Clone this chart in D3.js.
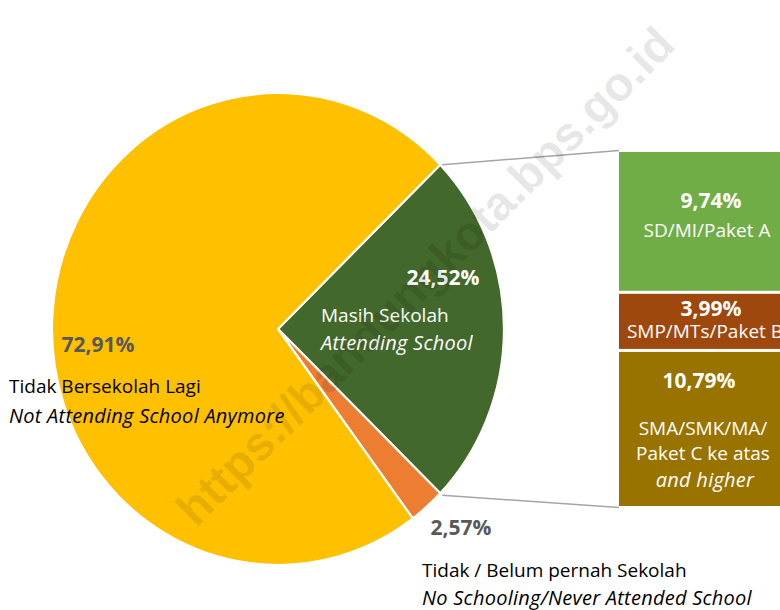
<!DOCTYPE html>
<html>
<head>
<meta charset="utf-8">
<script src="https://cdn.jsdelivr.net/npm/d3@7"></script>
<style>
  html, body { margin: 0; padding: 0; background: #fff; }
  svg { display: block; }
  text { font-family: "Open Sans", "Noto Sans", sans-serif; }
</style>
</head>
<body>
<svg id="chart" width="780" height="610"></svg>
<script>
// ---------------- data ----------------
const pieCategories   = ["Masih Sekolah", "Tidak / Belum pernah Sekolah", "Tidak Bersekolah Lagi"];
const pieCategoriesEn = ["Attending School", "No Schooling/Never Attended School", "Not Attending School Anymore"];
const pieValues       = [24.52, 2.57, 72.91];

const barCategories   = [["SD/MI/Paket A"], ["SMP/MTs/Paket B"], ["SMA/SMK/MA/", "Paket C ke atas"]];
const barCategoriesEn = ["", "", "and higher"];
const barValues       = [9.74, 3.99, 10.79];

const watermarkText = "https://bandungkota.bps.go.id";

// ---------------- styles ----------------
const pieColors = ["#43682B", "#ED7D31", "#FFC000"];
const barColors = ["#70AD47", "#9E480E", "#997300"];

const locale = d3.formatLocale({decimal: ",", thousands: ".", grouping: [3], currency: ["", ""]});
const fmt = v => locale.format(".2f")(v) + "%";

const svg = d3.select("#chart");

// ---------------- pie ----------------
const cx = 278, cy = 329, ry = 236, rx = 226;
const total = d3.sum(pieValues);
const otherShare = pieValues[0] / total;            // slice split into the bar
const start = Math.PI / 2 - otherShare * Math.PI;   // centre it on the right

const pie = d3.pie().sort(null).value(d => d)
  .startAngle(start).endAngle(start + 2 * Math.PI);
const arcs = pie(pieValues);
const arc = d3.arc().innerRadius(0).outerRadius(ry);

const pieG = svg.append("g").attr("transform", `translate(${cx},${cy}) scale(${rx / ry},1)`);
pieG.selectAll("path").data(arcs).join("path")
  .attr("d", arc)
  .attr("fill", (d, i) => pieColors[i])
  .attr("stroke", "#fff")
  .attr("stroke-width", 2.2)
  .attr("vector-effect", "non-scaling-stroke");

const edgePoint = a => [cx + rx * Math.sin(a), cy - ry * Math.cos(a)];

// ---------------- bar of pie ----------------
const barX = 619, barW = 178;
const yScale = d3.scaleLinear().domain([0, d3.sum(barValues)]).range([150.5, 507.5]);
let cum = 0;
const stack = barValues.map(v => { const s = {y0: cum, y1: cum + v, v}; cum += v; return s; });

svg.append("g").selectAll("rect").data(stack).join("rect")
  .attr("x", barX)
  .attr("y", d => yScale(d.y0) + 1.5)
  .attr("width", barW)
  .attr("height", d => yScale(d.y1) - yScale(d.y0) - 3)
  .attr("fill", (d, i) => barColors[i]);

// connector lines
const pTop = edgePoint(arcs[0].startAngle);
const pBot = edgePoint(arcs[0].endAngle);
svg.append("line").attr("x1", pTop[0] + 2).attr("y1", pTop[1]).attr("x2", barX).attr("y2", yScale(0))
  .attr("stroke", "#A5A5A5").attr("stroke-width", 1.5);
svg.append("line").attr("x1", pBot[0] + 2).attr("y1", pBot[1] + 2).attr("x2", barX).attr("y2", yScale(d3.sum(barValues)))
  .attr("stroke", "#A5A5A5").attr("stroke-width", 1.5);

// ---------------- labels: pie ----------------
const pctSize = 21, lblSize = 19, itSize = 20;
function label(x, y, txt, opts) {
  return svg.append("text").attr("x", x).attr("y", y).text(txt)
    .attr("font-size", opts.italic ? itSize : opts.size)
    .attr("letter-spacing", opts.italic ? 0.25 : 0)
    .attr("font-weight", opts.bold ? 700 : 400)
    .attr("font-style", opts.italic ? "italic" : "normal")
    .attr("fill", opts.fill)
    .attr("text-anchor", opts.anchor || "start");
}
// Masih Sekolah (green)
label(443, 285, fmt(pieValues[0]), {size: pctSize, bold: true, fill: "#fff", anchor: "middle"});
label(321, 322, pieCategories[0], {size: lblSize, fill: "#fff"});
label(321, 350, pieCategoriesEn[0], {size: lblSize, italic: true, fill: "#fff"});
// Tidak / Belum pernah (orange)
label(461, 535, fmt(pieValues[1]), {size: pctSize, bold: true, fill: "#595959", anchor: "middle"});
label(422, 577, pieCategories[1], {size: lblSize, fill: "#000"});
label(422, 605, pieCategoriesEn[1], {size: lblSize, italic: true, fill: "#000"});
// Tidak Bersekolah Lagi (yellow)
label(98, 352, fmt(pieValues[2]), {size: pctSize, bold: true, fill: "#595959", anchor: "middle"});
label(9, 393, pieCategories[2], {size: lblSize, fill: "#000"});
label(9, 423, pieCategoriesEn[2], {size: lblSize, italic: true, fill: "#000"});

// ---------------- labels: bar ----------------
const bcx = barX + barW / 2 - 1;
// SD/MI
label(bcx + 4, 208, fmt(barValues[0]), {size: pctSize, bold: true, fill: "#fff", anchor: "middle"});
label(bcx, 237, barCategories[0][0], {size: lblSize, fill: "#fff", anchor: "middle"});
// SMP
label(bcx + 4, 316, fmt(barValues[1]), {size: pctSize, bold: true, fill: "#fff", anchor: "middle"});
label(bcx - 2, 338, barCategories[1][0], {size: lblSize, fill: "#fff", anchor: "middle"});
// SMA
label(bcx - 8, 388, fmt(barValues[2]), {size: pctSize, bold: true, fill: "#fff", anchor: "middle"});
label(bcx - 4, 435, barCategories[2][0], {size: lblSize, fill: "#fff", anchor: "middle"});
label(bcx - 4, 460, barCategories[2][1], {size: lblSize, fill: "#fff", anchor: "middle"});
label(bcx - 2, 487, barCategoriesEn[2], {size: lblSize, italic: true, fill: "#fff", anchor: "middle"});

// ---------------- watermark ----------------
svg.append("text")
  .attr("transform", "translate(425,276) rotate(-45)")
  .attr("text-anchor", "middle")
  .attr("dominant-baseline", "central")
  .style("font-family", "'Liberation Sans', Arial, sans-serif")
  .attr("font-weight", 700)
  .attr("font-size", 47.5)
  .attr("fill", "#000")
  .attr("fill-opacity", 0.11)
  .text(watermarkText);
</script>
</body>
</html>
